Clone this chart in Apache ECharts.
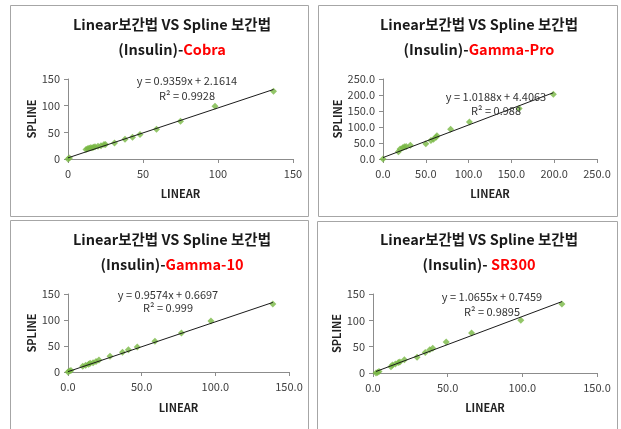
<!DOCTYPE html>
<html>
<head>
<meta charset="utf-8">
<script src="https://cdn.jsdelivr.net/npm/echarts@6/dist/echarts.min.js"></script>
<style>
  html, body { margin: 0; padding: 0; background: #fff; }
  #main { width: 621px; height: 429px; }
</style>
</head>
<body>
<div id="main"></div>
<script>
// 패널 이름
var names = ['Cobra', 'Gamma-Pro', 'Gamma-10', 'SR300'];

// [LINEAR, SPLINE] 점 데이터
var cobraPts = [[0,0],[1,2],[12,18],[13,19],[14,20],[15,21],[16,21],[17,22],[18,23],[20,24],[22,25],[24,27],[25,27],
  [31,30],[38,37],[43,41],[48,46],[59,56],[75,71],[98,99],[137,127]];
var gammaProPts = [[0,0],[18,23],[20,31],[23,35],[25,38],[27,39],[32,43],[50,48],[56,58],[59,62],[62,68],[63,73],
  [79,93],[101,116],[159,158],[199,202]];
var gamma10Pts = [[0,0],[1,2],[2,3],[10,11],[12,13],[14,15],[15,17],[17,18],[19,20],[21,23],[28.5,30.5],[37,38],
  [41,43],[47,48],[59,59],[77,75],[97,98],[139,131]];
var sr300Pts = [[2,0],[3,1],[4,3],[12,12],[13,15],[15,17],[17,20],[18,21],[21,25],[29.5,30],[35,39],[38,44],
  [40,47],[49,59],[66,76],[99,100],[126.5,131]];

// 추세선 (기울기, 절편, R²)
var slopes = [0.9359, 1.0188, 0.9574, 1.0655];
var intercepts = [2.1614, 4.4063, 0.6697, 0.7459];
var rSquared = ['0.9928', '0.988', '0.999', '0.9895'];

// 축 범위 / 눈금
var xMax = [150, 250, 150, 150];
var yMax = [150, 250, 150, 150];
var xDecimals = [0, 1, 1, 1];
var yDecimals = [0, 1, 0, 0];

var allPts = [cobraPts, gammaProPts, gamma10Pts, sr300Pts];

// 레이아웃
var grids = [
  {left: 68, top: 79, width: 225, height: 80},
  {left: 383, top: 79, width: 214, height: 80},
  {left: 68, top: 294, width: 221, height: 78},
  {left: 373, top: 294, width: 224, height: 79}
];
var boxes = [[10, 5, 298, 211], [318, 5, 299, 211], [10, 220, 298, 215], [317, 221, 300, 215]];
var titleX = [172, 479, 172, 479];
var titleY = [4, 4, 219, 219];
var eqPos = [[187, 81, 96], [496, 97, 111], [168, 295, 308], [492, 297, 312]];
var xNameGap = [29, 29, 30, 29];
var yNameGap = [31, 35, 31, 27];

var font = '"Noto Sans CJK KR", "Noto Sans", sans-serif';
var axisColor = '#8c8c8c';
var markerColor = '#78b843';

var myChart = echarts.init(document.getElementById('main'));

var xAxes = [], yAxes = [], series = [], graphics = [];
for (var i = 0; i < 4; i++) {
  (function (i) {
    xAxes.push({
      type: 'value', gridIndex: i, min: 0, max: xMax[i], interval: 50,
      name: 'LINEAR', nameLocation: 'middle', nameGap: xNameGap[i],
      nameTextStyle: {fontFamily: font, fontWeight: 'bold', fontSize: 11, color: '#222'},
      axisLine: {lineStyle: {color: axisColor}},
      axisTick: {length: 4, lineStyle: {color: axisColor}},
      axisLabel: {fontFamily: font, fontSize: 11, color: '#404040', margin: 9,
        formatter: function (v) { return v.toFixed(xDecimals[i]); }},
      splitLine: {show: false}
    });
    yAxes.push({
      type: 'value', gridIndex: i, min: 0, max: yMax[i], interval: 50,
      name: 'SPLINE', nameLocation: 'middle', nameGap: yNameGap[i], nameRotate: 90,
      nameTextStyle: {fontFamily: font, fontWeight: 'bold', fontSize: 11, color: '#222'},
      axisLine: {show: true, lineStyle: {color: axisColor}},
      axisTick: {show: true, length: 4, lineStyle: {color: axisColor}},
      axisLabel: {fontFamily: font, fontSize: 11, color: '#404040', margin: 8,
        formatter: function (v) { return v.toFixed(yDecimals[i]); }},
      splitLine: {show: false}
    });
    var pts = allPts[i];
    var xs = pts.map(function (p) { return p[0]; });
    var x0 = Math.min.apply(null, xs), x1 = Math.max.apply(null, xs);
    series.push({
      type: 'line', xAxisIndex: i, yAxisIndex: i, symbol: 'none', silent: true,
      lineStyle: {color: '#1a1a1a', width: 1},
      data: [[x0, slopes[i] * x0 + intercepts[i]], [x1, slopes[i] * x1 + intercepts[i]]],
      z: 3
    });
    series.push({
      type: 'scatter', xAxisIndex: i, yAxisIndex: i, symbol: 'diamond', symbolSize: 7,
      itemStyle: {color: markerColor}, data: pts, z: 2
    });

    var b = boxes[i];
    graphics.push({type: 'rect', shape: {x: b[0] + 0.5, y: b[1] + 0.5, width: b[2], height: b[3]},
      style: {fill: 'none', stroke: '#a6a6a6', lineWidth: 1}, silent: true});
    graphics.push({type: 'text', x: titleX[i], y: titleY[i] + 8, silent: true,
      style: {
        text: '{t|Linear보간법 VS Spline 보간법}\n{t|(Insulin)-' + (i === 3 ? ' ' : '') + '}{r|' + names[i] + '}',
        align: 'center', verticalAlign: 'top',
        rich: {
          t: {fontFamily: font, fontWeight: 'bold', fontSize: 14.5, fill: '#1a1a1a', lineHeight: 25, align: 'center'},
          r: {fontFamily: font, fontWeight: 'bold', fontSize: 14.5, fill: '#ff0000', lineHeight: 25}
        }
      }});
    var e = eqPos[i];
    graphics.push({type: 'text', x: e[0], y: e[1], silent: true, z: 10,
      style: {text: 'y = ' + slopes[i].toFixed(4) + 'x + ' + intercepts[i].toFixed(4),
        font: '11px ' + font, fill: '#333', align: 'center', verticalAlign: 'middle'}});
    graphics.push({type: 'text', x: e[0], y: e[2], silent: true, z: 10,
      style: {text: 'R² = ' + rSquared[i],
        font: '11px ' + font, fill: '#333', align: 'center', verticalAlign: 'middle'}});
  })(i);
}

var option = {
  animation: false,
  grid: grids,
  xAxis: xAxes,
  yAxis: yAxes,
  series: series,
  graphic: graphics
};
myChart.setOption(option);
</script>
</body>
</html>
